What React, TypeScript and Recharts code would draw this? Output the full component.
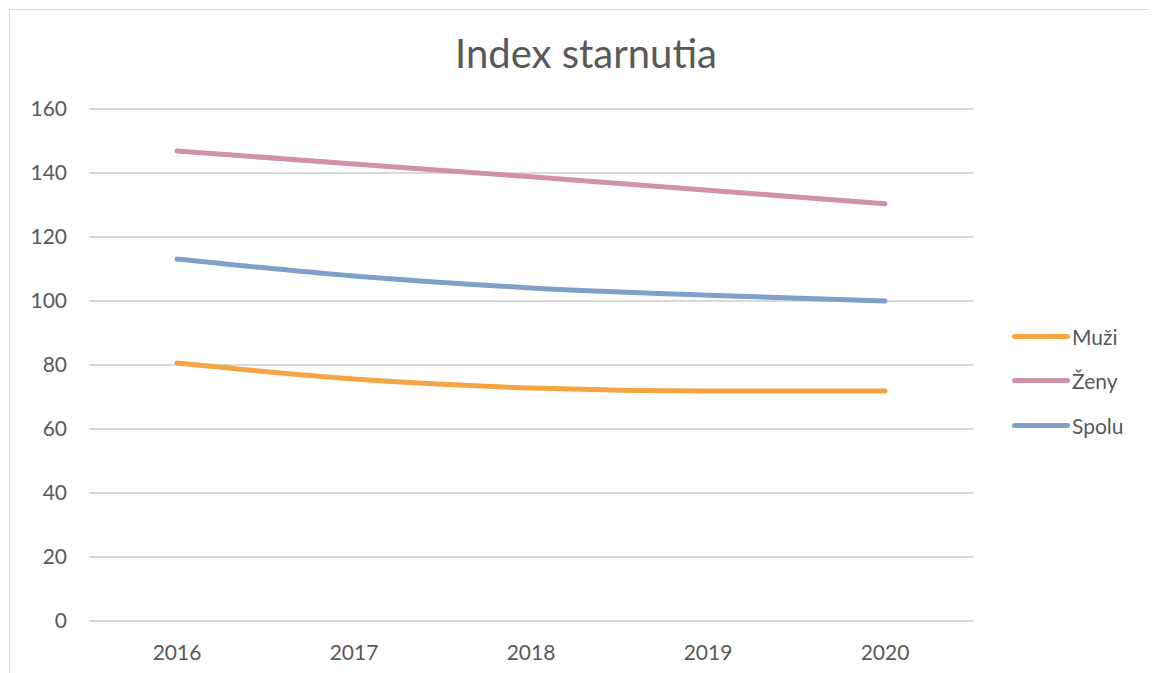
import React from "react";
import { LineChart, Line, XAxis, YAxis, CartesianGrid, Legend } from "recharts";

const years = ["2016", "2017", "2018", "2019", "2020"];
const muzi = [80.6, 75.6, 72.8, 71.9, 71.9];
const zeny = [146.9, 142.8, 138.8, 134.6, 130.4];
const spolu = [113.1, 107.8, 104.1, 101.8, 100.0];
const yTicks = [0, 20, 40, 60, 80, 100, 120, 140, 160];

const seriesDefs = [
  { key: "Muži", values: muzi, color: "#F5A443" },
  { key: "Ženy", values: zeny, color: "#D391A8" },
  { key: "Spolu", values: spolu, color: "#7FA0C8" },
];

const data = years.map((y, i) => {
  const row: Record<string, string | number> = { year: y };
  seriesDefs.forEach((s) => {
    row[s.key] = s.values[i];
  });
  return row;
});

const FONT = "Lato, 'Open Sans', sans-serif";
const TEXT = "#595959";

const LegendContent = () => (
  <div style={{ fontFamily: FONT }}>
    {seriesDefs.map((s) => (
      <div key={s.key} style={{ display: "flex", alignItems: "center", height: 44.5 }}>
        <div style={{ width: 58, height: 5, borderRadius: 3, background: s.color }} />
        <span style={{ marginLeft: 2, fontSize: 21, color: TEXT }}>{s.key}</span>
      </div>
    ))}
  </div>
);

export default function App() {
  return (
    <div
      style={{
        position: "relative",
        width: 1160,
        height: 680,
        marginLeft: 1,
        marginTop: 1,
        border: "1px solid #d9d9d9",
        boxSizing: "border-box",
        background: "#fff",
      }}
    >
      <div
        style={{
          position: "absolute",
          left: 0,
          width: 1152,
          top: 19,
          textAlign: "center",
          fontFamily: FONT,
          fontSize: 40,
          color: TEXT,
        }}
      >
        Index starnutia
      </div>
      <LineChart
        width={1150}
        height={670}
        data={data}
        margin={{ top: 99, right: 47, bottom: 29, left: 29 }}
      >
        <CartesianGrid vertical={false} stroke="#d9d9d9" strokeWidth={2} />
        <XAxis
          dataKey="year"
          axisLine={false}
          tickLine={false}
          tickSize={0}
          tickMargin={24}
          height={30}
          padding={{ left: 88, right: 88 }}
          tick={{ fill: TEXT, fontSize: 21, fontFamily: FONT }}
        />
        <YAxis
          domain={[0, 160]}
          ticks={yTicks}
          axisLine={false}
          tickLine={false}
          tickSize={0}
          tickMargin={22}
          width={50}
          tick={{ fill: TEXT, fontSize: 21, fontFamily: FONT }}
        />
        <Legend
          layout="vertical"
          align="right"
          verticalAlign="top"
          content={<LegendContent />}
          wrapperStyle={{ position: "absolute", left: 1002, top: 304, width: 140 }}
        />
        {seriesDefs.map((s) => (
          <Line
            key={s.key}
            type="monotone"
            dataKey={s.key}
            stroke={s.color}
            strokeWidth={5}
            strokeLinecap="round"
            dot={false}
            activeDot={false}
            isAnimationActive={false}
          />
        ))}
      </LineChart>
    </div>
  );
}
